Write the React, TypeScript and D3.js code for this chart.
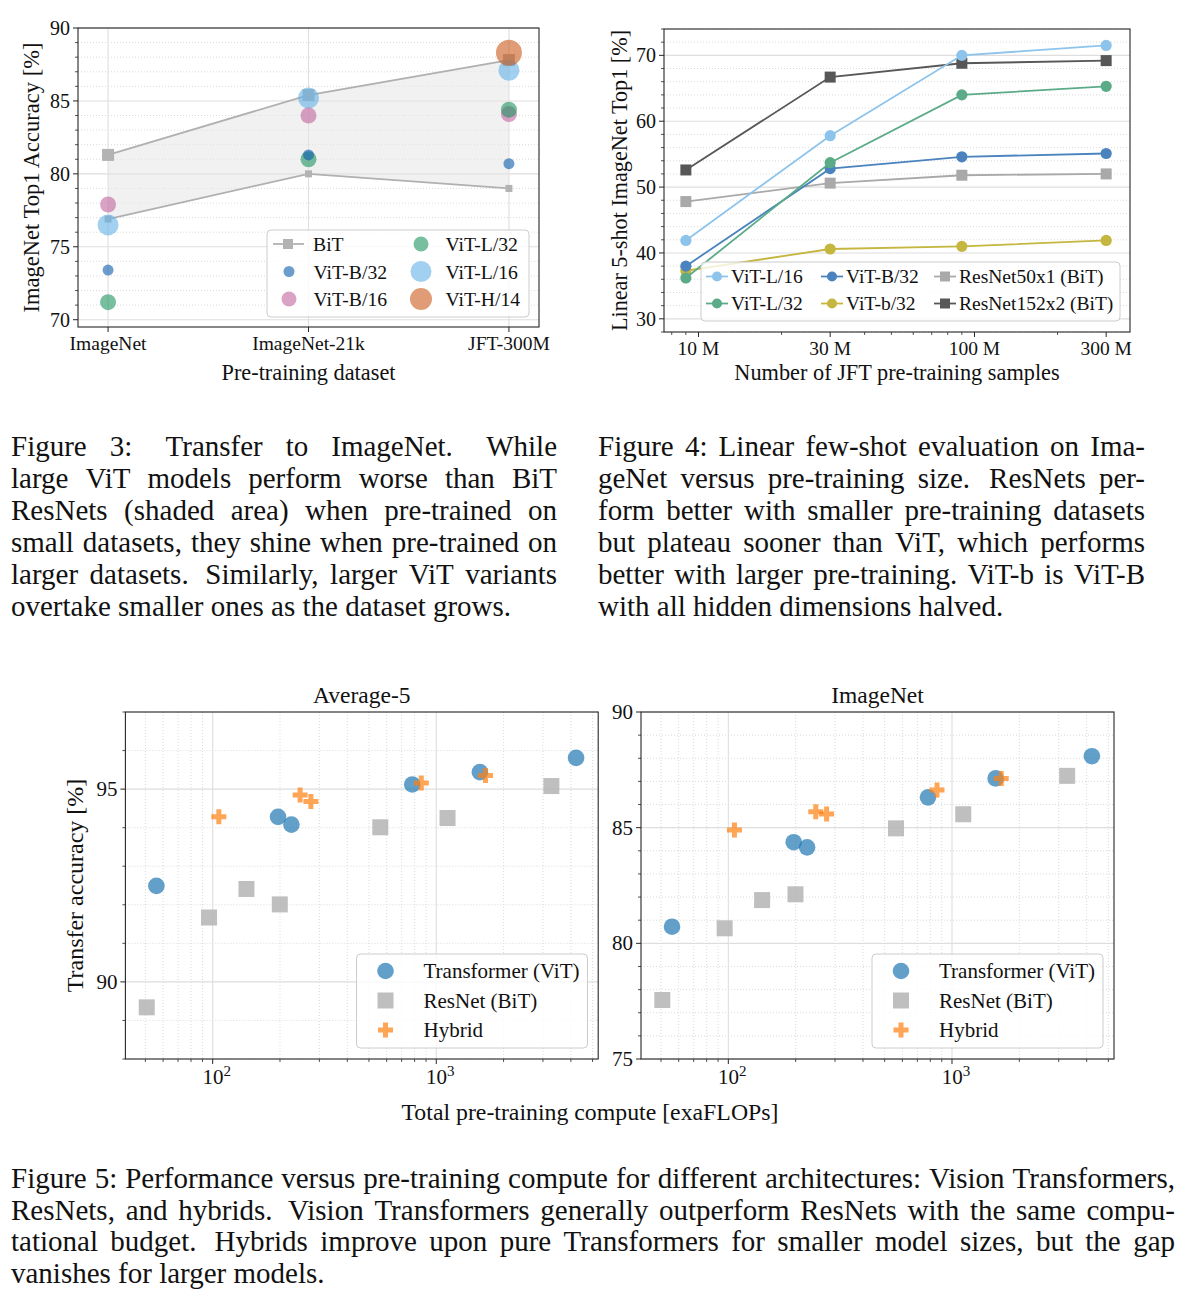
import React, { useEffect, useRef } from "react";
import * as d3 from "d3";

const FONT = "'Liberation Serif', 'Times New Roman', serif";

// Figure 3: transfer to ImageNet
const datasets = ["ImageNet", "ImageNet-21k", "JFT-300M"];
const bitTop = [81.3, 85.4, 87.8];
const bitBottom = [76.9, 80.0, 79.0];
const vitB32 = [73.4, 81.3, 80.7];
const vitB16 = [77.9, 84.0, 84.1];
const vitL32 = [71.2, 81.0, 84.4];
const vitL16 = [76.5, 85.2, 87.1];
const vitH14 = [null, null, 88.3];

// Figure 4: linear 5-shot vs number of JFT samples
const samples = [9e6, 3e7, 9e7, 3e8];
const sampleTicks = [1e7, 3e7, 1e8, 3e8];
const sampleTickLabels = ["10 M", "30 M", "100 M", "300 M"];
const fsL16 = [41.9, 57.8, 70.0, 71.5];
const fsL32 = [36.2, 53.7, 64.0, 65.3];
const fsB32 = [38.0, 52.8, 54.6, 55.1];
const fsb32 = [37.3, 40.6, 41.0, 41.9];
const fsR50 = [47.8, 50.6, 51.8, 52.0];
const fsR152 = [52.6, 66.7, 68.8, 69.2];

// Figure 5: accuracy vs compute
const vitFlops = [56, 196, 225, 781, 1567, 4220];
const resnetFlops = [50.7, 96.3, 141.6, 199.6, 562, 1123, 3272];
const hybridFlops = [106.5, 246, 275, 857, 1660];
const vitAvg5 = [92.49, 94.28, 94.08, 95.12, 95.44, 95.81];
const resnetAvg5 = [89.34, 91.67, 92.41, 92.01, 94.01, 94.25, 95.08];
const hybridAvg5 = [94.28, 94.85, 94.68, 95.16, 95.35];
const vitIn = [80.72, 84.37, 84.15, 86.31, 87.13, 88.09];
const resnetIn = [77.55, 80.65, 81.87, 82.12, 84.97, 85.58, 87.24];
const hybridIn = [84.9, 85.69, 85.59, 86.63, 87.13];

// captions
const cap3 = [
  "Figure 3:  Transfer to ImageNet.  While",
  "large ViT models perform worse than BiT",
  "ResNets (shaded area) when pre-trained on",
  "small datasets, they shine when pre-trained on",
  "larger datasets.  Similarly, larger ViT variants",
  "overtake smaller ones as the dataset grows.",
];
const cap4 = [
  "Figure 4: Linear few-shot evaluation on Ima-",
  "geNet versus pre-training size.  ResNets per-",
  "form better with smaller pre-training datasets",
  "but plateau sooner than ViT, which performs",
  "better with larger pre-training. ViT-b is ViT-B",
  "with all hidden dimensions halved.",
];
const cap5 = [
  "Figure 5: Performance versus pre-training compute for different architectures: Vision Transformers,",
  "ResNets, and hybrids.  Vision Transformers generally outperform ResNets with the same compu-",
  "tational budget.  Hybrids improve upon pure Transformers for smaller model sizes, but the gap",
  "vanishes for larger models.",
];

const MINOR = "#d6d6d6";
const MAJOR = "#dedede";
const AXIS = "#262626";

function txt(g, x, y, s, size, anchor = "middle") {
  return g
    .append("text")
    .attr("x", x)
    .attr("y", y)
    .attr("text-anchor", anchor)
    .style("font-family", FONT)
    .style("font-size", size + "px")
    .attr("fill", "#111")
    .text(s);
}

function hLines(g, y, vals, x0, x1, minor) {
  g.append("g")
    .selectAll("line")
    .data(vals)
    .join("line")
    .attr("x1", x0)
    .attr("x2", x1)
    .attr("y1", (d) => y(d))
    .attr("y2", (d) => y(d))
    .attr("stroke", minor ? MINOR : MAJOR)
    .attr("stroke-width", minor ? 0.9 : 1.1)
    .attr("stroke-dasharray", minor ? "1,2" : null);
}

function vLines(g, x, vals, y0, y1, minor) {
  g.append("g")
    .selectAll("line")
    .data(vals)
    .join("line")
    .attr("y1", y0)
    .attr("y2", y1)
    .attr("x1", (d) => x(d))
    .attr("x2", (d) => x(d))
    .attr("stroke", minor ? MINOR : MAJOR)
    .attr("stroke-width", minor ? 0.9 : 1.1)
    .attr("stroke-dasharray", minor ? "1,2" : null);
}

function yTicks(g, y, major, minor, x0, size) {
  g.append("g")
    .selectAll("line")
    .data(minor)
    .join("line")
    .attr("x1", x0 - 3)
    .attr("x2", x0)
    .attr("y1", (d) => y(d))
    .attr("y2", (d) => y(d))
    .attr("stroke", AXIS)
    .attr("stroke-width", 0.8);
  major.forEach((v) => {
    g.append("line")
      .attr("x1", x0 - 5)
      .attr("x2", x0)
      .attr("y1", y(v))
      .attr("y2", y(v))
      .attr("stroke", AXIS)
      .attr("stroke-width", 1);
    txt(g, x0 - 8, y(v), String(v), size, "end").attr("dominant-baseline", "central");
  });
}

function frame(g, L, T, R, B) {
  g.append("rect")
    .attr("x", L)
    .attr("y", T)
    .attr("width", R - L)
    .attr("height", B - T)
    .attr("fill", "none")
    .attr("stroke", AXIS)
    .attr("stroke-width", 1.1);
}

function legendBox(g, x0, y0, x1, y1) {
  g.append("rect")
    .attr("x", x0)
    .attr("y", y0)
    .attr("width", x1 - x0)
    .attr("height", y1 - y0)
    .attr("rx", 4)
    .attr("fill", "#fff")
    .attr("fill-opacity", 0.8)
    .attr("stroke", "#cccccc")
    .attr("stroke-width", 1);
}

function ylabel(g, x, y, s, size) {
  g.append("text")
    .attr("transform", `translate(${x},${y}) rotate(-90)`)
    .attr("text-anchor", "middle")
    .attr("dominant-baseline", "central")
    .style("font-family", FONT)
    .style("font-size", size + "px")
    .attr("fill", "#111")
    .text(s);
}

function drawFig3(svg) {
  const L = 78, R = 539, T = 28, B = 327;
  const g = svg.append("g");
  const x = d3.scalePoint(datasets, [L, R]).padding(0.15);
  const y = d3.scaleLinear([69.5, 90], [B, T]);

  const minor = d3.range(70, 91).filter((v) => v % 5 !== 0);
  hLines(g, y, minor, L, R, true);
  hLines(g, y, [70, 75, 80, 85, 90], L, R, false);
  vLines(g, x, datasets, T, B, false);

  const area = d3
    .area()
    .x((d, i) => x(datasets[i]))
    .y0((d, i) => y(bitBottom[i]))
    .y1((d) => y(d));
  g.append("path").datum(bitTop).attr("d", area).attr("fill", "#e6e6e6").attr("fill-opacity", 0.55);

  const line = d3
    .line()
    .x((d, i) => x(datasets[i]))
    .y((d) => y(d));
  [
    [bitTop, 12],
    [bitBottom, 7],
  ].forEach(([vals, s]) => {
    g.append("path").datum(vals).attr("d", line).attr("fill", "none").attr("stroke", "#b0b0b0").attr("stroke-width", 1.8);
    g.append("g")
      .selectAll("rect")
      .data(vals)
      .join("rect")
      .attr("x", (d, i) => x(datasets[i]) - s / 2)
      .attr("y", (d) => y(d) - s / 2)
      .attr("width", s)
      .attr("height", s)
      .attr("fill", "#b3b3b3");
  });

  const series = [
    { name: "ViT-L/16", vals: vitL16, color: "#64b0e6", r: 10.5 },
    { name: "ViT-B/16", vals: vitB16, color: "#c2649f", r: 8 },
    { name: "ViT-L/32", vals: vitL32, color: "#1e9560", r: 8 },
    { name: "ViT-B/32", vals: vitB32, color: "#0a5bab", r: 5.5 },
    { name: "ViT-H/14", vals: vitH14, color: "#cc5a1a", r: 13 },
  ];
  series.forEach((s) => {
    g.append("g")
      .selectAll("circle")
      .data(s.vals.map((v, i) => ({ v, i })).filter((d) => d.v != null))
      .join("circle")
      .attr("cx", (d) => x(datasets[d.i]))
      .attr("cy", (d) => y(d.v))
      .attr("r", s.r)
      .attr("fill", s.color)
      .attr("fill-opacity", 0.6);
  });

  yTicks(g, y, [70, 75, 80, 85, 90], minor, L, 20);
  datasets.forEach((d) => {
    g.append("line").attr("x1", x(d)).attr("x2", x(d)).attr("y1", B).attr("y2", B + 5).attr("stroke", AXIS);
    txt(g, x(d), 350, d, 19.5);
  });
  txt(g, (L + R) / 2, 380, "Pre-training dataset", 22.3);
  ylabel(g, 31, (T + B) / 2, "ImageNet Top1 Accuracy [%]", 22.5);
  frame(g, L, T, R, B);

  // legend
  legendBox(g, 267, 230, 529, 317);
  const rows = [244, 271.5, 299];
  g.append("line").attr("x1", 273).attr("x2", 304).attr("y1", rows[0]).attr("y2", rows[0]).attr("stroke", "#b0b0b0").attr("stroke-width", 1.8);
  g.append("rect").attr("x", 283).attr("y", rows[0] - 5).attr("width", 10).attr("height", 10).attr("fill", "#b3b3b3");
  txt(g, 313, rows[0], "BiT", 19.7, "start").attr("dominant-baseline", "central");
  const leg = [
    ["ViT-B/32", "#0a5bab", 5.5, 289, rows[1]],
    ["ViT-B/16", "#c2649f", 7.5, 289, rows[2]],
    ["ViT-L/32", "#1e9560", 7.5, 421, rows[0]],
    ["ViT-L/16", "#64b0e6", 10.5, 421, rows[1]],
    ["ViT-H/14", "#cc5a1a", 11, 421, rows[2]],
  ];
  leg.forEach(([name, c, r, cx, cy]) => {
    g.append("circle").attr("cx", cx).attr("cy", cy).attr("r", r).attr("fill", c).attr("fill-opacity", 0.6);
    txt(g, cx + 24.5, cy, name, 19.7, "start").attr("dominant-baseline", "central");
  });
}

function drawFig4(svg) {
  const L = 664, R = 1130, T = 29, B = 332;
  const g = svg.append("g");
  const x = d3.scaleLog([7.5e6, 3.66e8], [L, R]);
  const y = d3.scaleLinear([28, 74], [B, T]);

  const minor = d3.range(28, 75, 2).filter((v) => v % 10 !== 0);
  hLines(g, y, minor, L, R, true);
  hLines(g, y, [30, 40, 50, 60, 70], L, R, false);

  const series = [
    { vals: fsR50, color: "#a9a9a9", sq: true },
    { vals: fsR152, color: "#575757", sq: true },
    { vals: fsL16, color: "#8ec4ec", sq: false },
    { vals: fsb32, color: "#c4b63f", sq: false },
    { vals: fsB32, color: "#4a83bd", sq: false },
    { vals: fsL32, color: "#5cab88", sq: false },
  ];
  const line = d3
    .line()
    .x((d, i) => x(samples[i]))
    .y((d) => y(d));
  series.forEach((s) => {
    g.append("path").datum(s.vals).attr("d", line).attr("fill", "none").attr("stroke", s.color).attr("stroke-width", 1.8);
    const m = g.append("g").selectAll("x").data(s.vals);
    if (s.sq)
      m.join("rect")
        .attr("x", (d, i) => x(samples[i]) - 5.5)
        .attr("y", (d) => y(d) - 5.5)
        .attr("width", 11)
        .attr("height", 11)
        .attr("fill", s.color);
    else
      m.join("circle")
        .attr("cx", (d, i) => x(samples[i]))
        .attr("cy", (d) => y(d))
        .attr("r", 5.6)
        .attr("fill", s.color);
  });

  yTicks(g, y, [30, 40, 50, 60, 70], minor, L, 20);
  const minorX = [8e6, 9e6, 2e7, 4e7, 5e7, 6e7, 7e7, 8e7, 9e7, 2e8];
  minorX.forEach((v) => {
    g.append("line").attr("x1", x(v)).attr("x2", x(v)).attr("y1", B).attr("y2", B + 3).attr("stroke", AXIS).attr("stroke-width", 0.8);
  });
  sampleTicks.forEach((v, i) => {
    g.append("line").attr("x1", x(v)).attr("x2", x(v)).attr("y1", B).attr("y2", B + 5).attr("stroke", AXIS);
    txt(g, x(v), 355, sampleTickLabels[i], 19.5);
  });
  txt(g, (L + R) / 2, 380, "Number of JFT pre-training samples", 22.3);
  ylabel(g, 619, (T + B) / 2, "Linear 5-shot ImageNet Top1 [%]", 22.2);
  frame(g, L, T, R, B);

  legendBox(g, 701, 262, 1120, 321);
  const rows = [276.5, 303.5];
  const leg = [
    ["ViT-L/16", "#8ec4ec", false, 717, rows[0]],
    ["ViT-L/32", "#5cab88", false, 717, rows[1]],
    ["ViT-B/32", "#4a83bd", false, 832, rows[0]],
    ["ViT-b/32", "#c4b63f", false, 832, rows[1]],
    ["ResNet50x1 (BiT)", "#a9a9a9", true, 945, rows[0]],
    ["ResNet152x2 (BiT)", "#575757", true, 945, rows[1]],
  ];
  leg.forEach(([name, c, sq, cx, cy]) => {
    g.append("line").attr("x1", cx - 11).attr("x2", cx + 11).attr("y1", cy).attr("y2", cy).attr("stroke", c).attr("stroke-width", 1.8);
    if (sq) g.append("rect").attr("x", cx - 5).attr("y", cy - 5).attr("width", 10).attr("height", 10).attr("fill", c);
    else g.append("circle").attr("cx", cx).attr("cy", cy).attr("r", 5).attr("fill", c);
    txt(g, cx + 14, cy, name, 19.5, "start").attr("dominant-baseline", "central");
  });
}

function drawCompute(svg, L, R, title, yDom, yMajor, vitY, resY, hybY, legX, showYLabel) {
  const T = 712, B = 1059;
  const g = svg.append("g");
  const x = d3.scaleLog([40.7, 5300], [L, R]);
  const y = d3.scaleLinear(yDom, [B, T]);

  const minorY = d3.range(Math.ceil(yDom[0]), yDom[1] + 0.01, 1).filter((v) => !yMajor.includes(v));
  const minorX = [50, 60, 70, 80, 90, 200, 300, 400, 500, 600, 700, 800, 900, 2000, 3000, 4000, 5000];
  hLines(g, y, minorY, L, R, true);
  vLines(g, x, minorX, T, B, true);
  hLines(g, y, yMajor, L, R, false);
  vLines(g, x, [100, 1000], T, B, false);

  g.append("g")
    .selectAll("circle")
    .data(vitY)
    .join("circle")
    .attr("cx", (d, i) => x(vitFlops[i]))
    .attr("cy", (d) => y(d))
    .attr("r", 8.3)
    .attr("fill", "#1f77b4")
    .attr("fill-opacity", 0.7);
  g.append("g")
    .selectAll("rect")
    .data(resY)
    .join("rect")
    .attr("x", (d, i) => x(resnetFlops[i]) - 8)
    .attr("y", (d) => y(d) - 8)
    .attr("width", 16)
    .attr("height", 16)
    .attr("fill", "#b4b4b4")
    .attr("fill-opacity", 0.85);
  const cross = d3.symbol(d3.symbolCross, 125);
  g.append("g")
    .selectAll("path")
    .data(hybY)
    .join("path")
    .attr("d", cross)
    .attr("transform", (d, i) => `translate(${x(hybridFlops[i])},${y(d)})`)
    .attr("fill", "#ff7f0e")
    .attr("fill-opacity", 0.7);

  yTicks(g, y, yMajor, minorY, L, 21);
  minorX.forEach((v) => {
    g.append("line").attr("x1", x(v)).attr("x2", x(v)).attr("y1", B).attr("y2", B + 3).attr("stroke", AXIS).attr("stroke-width", 0.8);
  });
  [
    [100, "2"],
    [1000, "3"],
  ].forEach(([v, e]) => {
    g.append("line").attr("x1", x(v)).attr("x2", x(v)).attr("y1", B).attr("y2", B + 5).attr("stroke", AXIS);
    const t = txt(g, x(v) + 4, 1084, "10", 21);
    t.append("tspan").attr("dy", -8).style("font-size", "15px").text(e);
  });
  txt(g, (L + R) / 2, 703, title, 23.5);
  if (showYLabel) ylabel(g, 75, (T + B) / 2, "Transfer accuracy [%]", 24);
  frame(g, L, T, R, B);

  legendBox(g, legX, 954, legX + 231, 1048);
  const mx = legX + 29, tx = legX + 67;
  const rows = [971, 1000.5, 1030];
  g.append("circle").attr("cx", mx).attr("cy", rows[0]).attr("r", 8.3).attr("fill", "#1f77b4").attr("fill-opacity", 0.7);
  g.append("rect").attr("x", mx - 8).attr("y", rows[1] - 8).attr("width", 16).attr("height", 16).attr("fill", "#b4b4b4").attr("fill-opacity", 0.85);
  g.append("path").attr("d", cross).attr("transform", `translate(${mx},${rows[2]})`).attr("fill", "#ff7f0e").attr("fill-opacity", 0.7);
  ["Transformer (ViT)", "ResNet (BiT)", "Hybrid"].forEach((s, i) => {
    txt(g, tx, rows[i], s, 21, "start").attr("dominant-baseline", "central");
  });
}

function caption(svg, lines, x0, x1, y0, dy, size) {
  const g = svg.append("g").style("font-family", FONT).style("font-size", size + "px");
  lines.forEach((line, li) => {
    const y = y0 + li * dy;
    if (li === lines.length - 1) {
      g.append("text").attr("x", x0).attr("y", y).attr("fill", "#111").text(line);
      return;
    }
    const parts = line.split(/( +)/);
    const words = parts.filter((p, i) => i % 2 === 0);
    const weights = parts.filter((p, i) => i % 2 === 1).map((p) => (p.length > 1 ? 1.45 : 1));
    const nodes = words.map((w) => g.append("text").attr("y", y).attr("fill", "#111").text(w));
    const widths = nodes.map((n) => n.node().getComputedTextLength());
    const unit = Math.max(2, (x1 - x0 - d3.sum(widths)) / d3.sum(weights));
    let cx = x0;
    nodes.forEach((n, i) => {
      n.attr("x", cx);
      cx += widths[i] + (i < weights.length ? weights[i] * unit : 0);
    });
  });
}

export default function App() {
  const ref = useRef<SVGSVGElement>(null);

  useEffect(() => {
    if (!ref.current) return;
    const svg = d3.select(ref.current);
    svg.selectAll("*").remove();
    svg.append("rect").attr("width", 1194).attr("height", 1304).attr("fill", "#fff");

    drawFig3(svg);
    drawFig4(svg);
    drawCompute(svg, 125.4, 598.2, "Average-5", [88, 97], [90, 95], vitAvg5, resnetAvg5, hybridAvg5, 356.5, true);
    drawCompute(svg, 641, 1114, "ImageNet", [75, 90], [75, 80, 85, 90], vitIn, resnetIn, hybridIn, 872, false);
    const g = svg.append("g");
    txt(g, 590, 1120, "Total pre-training compute [exaFLOPs]", 23.8);

    caption(svg, cap3, 11, 557, 456, 32, 29);
    caption(svg, cap4, 598, 1145, 456, 32, 29);
    caption(svg, cap5, 11, 1175, 1188, 31.7, 29);
  }, []);

  return (
    <svg
      ref={ref}
      width={1194}
      height={1304}
      style={{ position: "absolute", left: 0, top: 0, display: "block" }}
    />
  );
}
